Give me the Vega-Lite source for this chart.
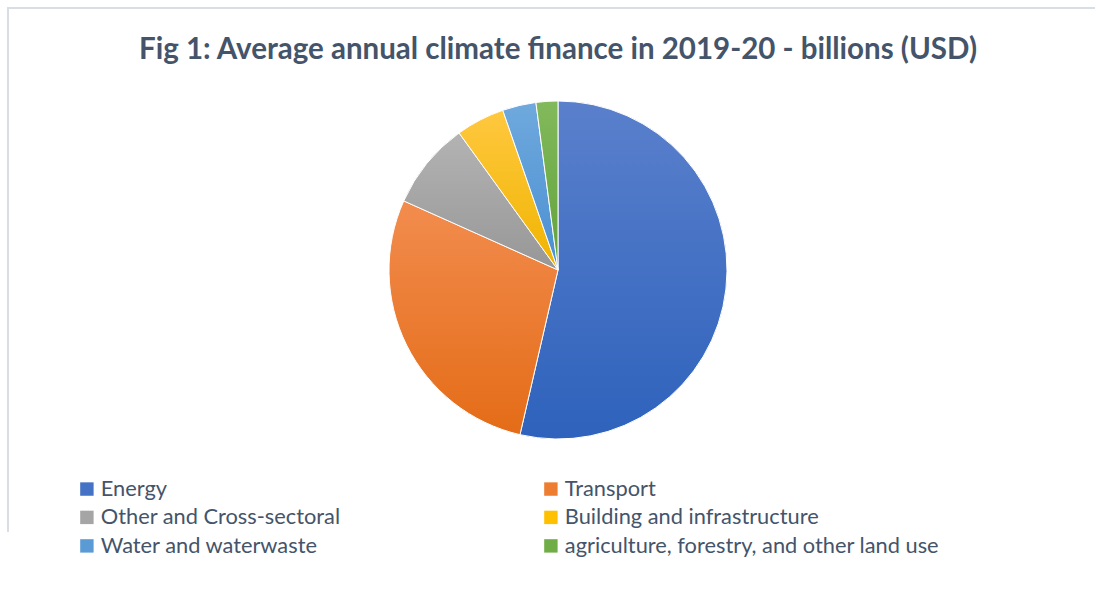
{
  "$schema": "https://vega.github.io/schema/vega-lite/v6.json",
  "width": 1100,
  "height": 524,
  "autosize": {"type": "none"},
  "padding": {"left": 8, "top": 8, "right": 0, "bottom": 78},
  "background": "white",
  "view": {"stroke": "#D9DEE5", "strokeWidth": 2, "strokeDash": [1624, 1100, 524]},
  "config": {
    "view": {"stroke": "#D9DEE5", "strokeWidth": 2, "strokeDash": [1624, 1100, 524]},
    "font": "Lato"
  },
  "title": {
    "text": "Fig 1: Average annual climate finance in 2019-20 - billions (USD)",
    "font": "Lato",
    "fontSize": 29.5,
    "fontWeight": "bold",
    "color": "#44546A",
    "anchor": "middle",
    "frame": "group",
    "offset": -57
  },
  "data": {
    "values": [
      {"sector": "Energy", "value": 334},
      {"sector": "Transport", "value": 175},
      {"sector": "Other and Cross-sectoral", "value": 52},
      {"sector": "Building and infrastructure", "value": 29},
      {"sector": "Water and waterwaste", "value": 20},
      {"sector": "agriculture, forestry, and other land use", "value": 13}
    ]
  },
  "encoding": {
    "theta": {"field": "value", "type": "quantitative", "stack": true}
  },
  "layer": [
    {
      "mark": {"type": "arc", "outerRadius": 169, "stroke": "#ffffff", "strokeWidth": 1},
      "encoding": {
        "color": {
          "field": "sector",
          "type": "nominal",
          "sort": null,
          "scale": {
            "domain": ["Energy", "Transport", "Other and Cross-sectoral", "Building and infrastructure", "Water and waterwaste", "agriculture, forestry, and other land use"],
            "range": ["#4472C4", "#ED7D31", "#A5A5A5", "#FFC000", "#5B9BD5", "#70AD47"]
          },
          "legend": {
            "orient": "none",
            "legendX": 68,
            "legendY": 470,
            "direction": "horizontal",
            "columns": 2,
            "columnPadding": 199,
            "rowPadding": 5.5,
            "title": null,
            "labelFont": "Lato",
            "labelFontSize": 21.8,
            "labelColor": "#44546A",
            "labelLimit": 600,
            "labelOffset": 3,
            "symbolType": "square",
            "symbolSize": 180,
            "symbolStrokeWidth": 0
          }
        }
      }
    },
    {
      "mark": {"type": "arc", "outerRadius": 169, "stroke": "#ffffff", "strokeWidth": 1},
      "encoding": {
        "fill": {
          "condition": [
            {"test": "datum.sector === 'Energy'", "value": {"gradient": "linear", "x1": 0, "y1": 0, "x2": 0, "y2": 1, "stops": [{"offset": 0, "color": "#5A80CC"}, {"offset": 1, "color": "#2E62BC"}]}},
            {"test": "datum.sector === 'Transport'", "value": {"gradient": "linear", "x1": 0, "y1": 0, "x2": 0, "y2": 1, "stops": [{"offset": 0, "color": "#F28C4E"}, {"offset": 1, "color": "#E46C17"}]}},
            {"test": "datum.sector === 'Other and Cross-sectoral'", "value": {"gradient": "linear", "x1": 0, "y1": 0, "x2": 0, "y2": 1, "stops": [{"offset": 0, "color": "#B3B3B3"}, {"offset": 1, "color": "#979797"}]}},
            {"test": "datum.sector === 'Building and infrastructure'", "value": {"gradient": "linear", "x1": 0, "y1": 0, "x2": 0, "y2": 1, "stops": [{"offset": 0, "color": "#FFC83F"}, {"offset": 1, "color": "#F0B400"}]}},
            {"test": "datum.sector === 'Water and waterwaste'", "value": {"gradient": "linear", "x1": 0, "y1": 0, "x2": 0, "y2": 1, "stops": [{"offset": 0, "color": "#6FA9DD"}, {"offset": 1, "color": "#4A8FD2"}]}}
          ],
          "value": {"gradient": "linear", "x1": 0, "y1": 0, "x2": 0, "y2": 1, "stops": [{"offset": 0, "color": "#82B95C"}, {"offset": 1, "color": "#62A23A"}]}
        }
      }
    }
  ]
}
